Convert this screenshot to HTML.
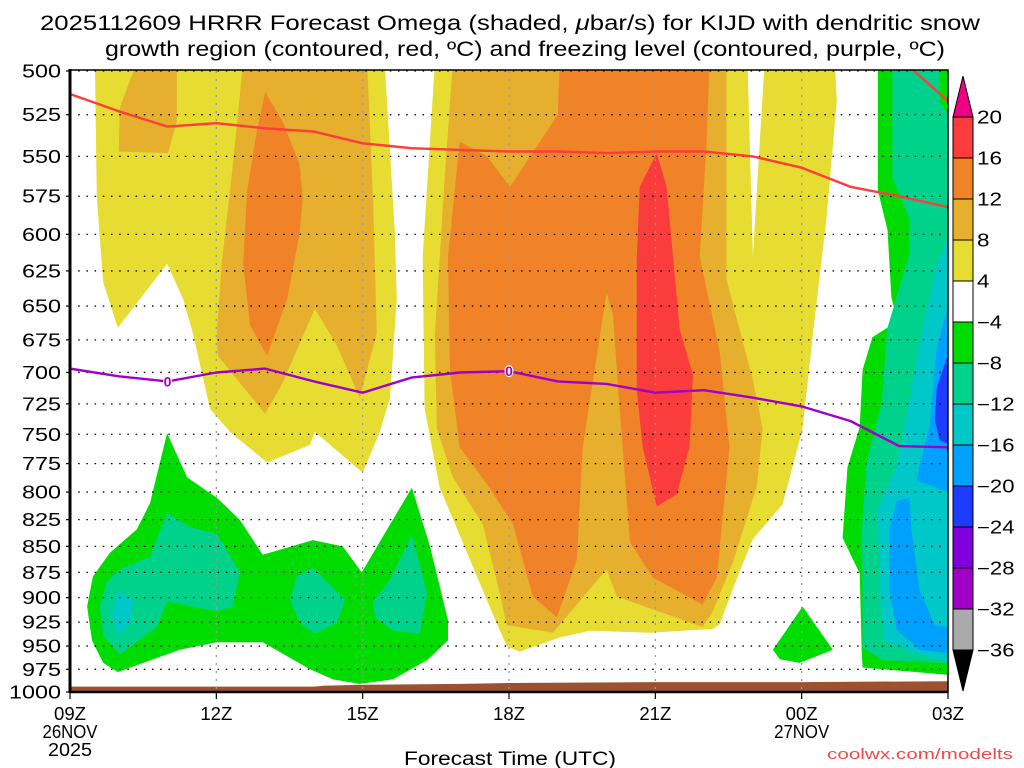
<!DOCTYPE html>
<html><head><meta charset="utf-8"><style>
html,body{margin:0;padding:0;background:#fff;width:1024px;height:768px;overflow:hidden}
svg text{font-family:"Liberation Sans","DejaVu Sans",sans-serif}
</style></head><body>
<svg id="chart" width="1024" height="768" viewBox="0 0 1024 768" xmlns="http://www.w3.org/2000/svg">
<g font-size="21" fill="#000">
<text x="40" y="30" textLength="940" lengthAdjust="spacingAndGlyphs">2025112609 HRRR Forecast Omega (shaded, <tspan font-style="italic">μ</tspan>bar/s) for KIJD with dendritic snow</text>
<text x="105" y="56" textLength="840" lengthAdjust="spacingAndGlyphs">growth region (contoured, red, ºC) and freezing level (contoured, purple, ºC)</text>
</g>
<defs><clipPath id="plotclip"><rect x="70" y="70" width="878" height="622"/></clipPath></defs>
<g id="shading" clip-path="url(#plotclip)"></g>
<g id="grid"></g>
<g id="lines" clip-path="url(#plotclip)"></g>
<g id="axes"></g>
<g id="cbar"></g>
<text x="510" y="765" font-size="19" text-anchor="middle" textLength="212" lengthAdjust="spacingAndGlyphs">Forecast Time (UTC)</text>
<text x="1013" y="759" font-size="15" text-anchor="end" fill="#f04848" textLength="186" lengthAdjust="spacingAndGlyphs">coolwx.com/modelts</text>
</svg>
<script>
// ---- data (hours since 09Z 26NOV, pressure hPa) ----
const hours = [0,1,2,3,4,5,6,7,8,9,10,11,12,13,14,15,16,17,18];
const xTickLabels = ["09Z","12Z","15Z","18Z","21Z","00Z","03Z"];
const xTickHours = [0,3,6,9,12,15,18];
const pressureTicks = [500,525,550,575,600,625,650,675,700,725,750,775,800,825,850,875,900,925,950,975,1000];
const freezingLevel = [697,703,707,700,697,707,716,704,700,699,707,709,716,714,720,727,739,760,761];
const dendriticTop = [513,523,532,530,533,535,542,545,546,547,547,548,547,547,550,557,569,575,582];
const dendriticCornerHours = [17.1,18];
const dendriticCornerP = [495,517];
const terrainHours = [0,5,5.2,6,8,9,12,15,18];
const surfacePressure = [994,994,993,992,991,990,989,989,988];
const cbarLevels = ["20","16","12","8","4","−4","−8","−12","−16","−20","−24","−28","−32","−36"];
const cbarColors = ["#fa3c3c","#f08228","#e6af2d","#e6dc32","#ffffff","#00dc00","#00d28c","#00c8c8","#00a0ff","#1e3cff","#8200dc","#a000c8","#aaaaaa"];
// shaded regions: [name, color, [[hour, hPa], ...]]
const regions = [
 ["yellow-left","#e6dc32",[[.51,495],[6.45,495],[6.66,599],[6.70,645],[6.56,720],[6.35,748],[6.00,783],[5.02,748],[4.92,759],[4.04,774],[3.28,748],[2.87,729],[2.52,670],[2.32,645],[1.99,620],[.98,666],[.68,633],[.55,576]]],
 ["lightorange-topleft","#e6af2d",[[1.37,495],[2.19,495],[2.19,529],[2.01,548],[1.0,547],[1.02,521]]],
 ["lightorange-left","#e6af2d",[[3.55,495],[6.09,495],[6.21,575],[6.29,670],[5.94,720],[5.47,679],[5.02,652],[4.36,708],[4.0,733],[3.48,708],[3.03,687],[3.01,670],[3.11,620],[3.34,555]]],
 ["orange-left","#f08228",[[4.0,512],[4.36,529],[4.71,555],[4.77,576],[4.71,599],[4.45,645],[4.04,687],[3.69,664],[3.55,620],[3.63,572],[3.83,535]]],
 ["yellow-main","#e6dc32",[[7.48,495],[15.68,495],[15.72,517],[15.51,589],[15.23,671],[15.02,745],[14.61,811],[14.0,843],[13.73,874],[13.32,927],[13.18,932],[11.89,936],[10.66,934],[10.04,941],[9.22,956],[8.95,950],[8.55,903],[8.05,846],[7.58,796],[7.27,729],[7.23,615]]],
 ["white-notch","#ffffff",[[13.89,495],[14.24,495],[14.0,615]]],
 ["lightorange-main","#e6af2d",[[7.85,495],[13.46,495],[13.46,631],[14.0,706],[14.2,745],[14.08,795],[13.59,865],[13.18,914],[12.97,930],[11.21,899],[11.0,872],[9.9,936],[8.95,928],[8.81,895],[8.46,829],[7.85,787],[7.52,745],[7.48,671],[7.68,564]]],
 ["orange-main","#f08228",[[10.04,495],[10.0,525],[9.02,569],[8.55,550],[7.99,541],[7.75,615],[7.79,698],[7.99,761],[8.55,793],[9.08,829],[9.49,899],[9.98,920],[10.39,863],[10.51,761],[11.0,640],[11.13,656],[11.27,729],[11.48,846],[11.95,880],[12.97,907],[13.26,880],[13.52,761],[13.32,684],[12.91,615],[13.05,541],[13.11,495]]],
 ["red-core","#fa3c3c",[[12.03,548],[11.68,569],[11.62,615],[11.62,714],[11.74,761],[12.03,813],[12.44,802],[12.7,761],[12.77,702],[12.5,667],[12.23,569]]],
 ["green-small","#00dc00",[[15.02,909],[14.41,954],[14.55,964],[14.96,968],[15.64,954]]],
 ["green-left","#00dc00",[[1.99,749],[2.40,787],[3.01,805],[3.48,825],[3.95,858],[4.98,844],[5.59,850],[5.98,875],[7.01,796],[7.38,850],[7.75,923],[7.75,944],[7.32,965],[6.62,986],[5.94,991],[5.39,986],[4.92,975],[3.95,946],[3.01,946],[2.25,954],[1.50,968],[.98,978],[.68,968],[.45,944],[.35,909],[.47,879],[.82,856],[1.37,834],[1.64,810]]],
 ["teal-left-1","#00d28c",[[1.99,819],[2.46,832],[3.01,838],[3.48,875],[3.34,909],[3.01,914],[1.99,904],[1.78,930],[1.02,959],[.68,939],[.61,909],[.76,884],[1.02,872],[1.64,860]]],
 ["cyan-left","#00c8c8",[[.98,894],[1.29,902],[1.27,926],[.98,938],[.86,916]]],
 ["teal-left-2","#00d28c",[[4.98,870],[5.64,902],[5.47,926],[5.02,937],[4.71,926],[4.51,902],[4.65,879]]],
 ["teal-left-3","#00d28c",[[7.01,839],[7.32,895],[7.17,937],[6.62,934],[6.25,920],[6.21,904],[6.56,882]]],
 ["green-right","#00dc00",[[16.56,490],[18.2,490],[18.2,982],[16.25,973],[16.23,956],[16.19,876],[15.84,842],[15.94,778],[16.19,744],[16.25,698],[16.45,673],[16.97,661],[16.84,644],[16.76,597],[16.56,571]]],
 ["teal-right","#00d28c",[[16.86,490],[17.83,490],[17.83,517],[18.2,535],[18.2,969],[16.66,965],[16.25,952],[16.25,891],[16.23,835],[16.33,775],[16.64,724],[16.76,666],[17.21,613],[17.21,590],[16.86,563]]],
 ["cyan-right","#00c8c8",[[18.2,587],[17.77,621],[17.42,677],[17.15,737],[16.95,777],[16.56,815],[16.60,894],[16.70,945],[17.27,957],[18.2,969]]],
 ["lightblue-right-upper","#00a0ff",[[18.2,626],[17.77,681],[17.62,744],[17.42,776],[17.36,790],[18.2,803]]],
 ["lightblue-right-lower","#00a0ff",[[16.95,808],[17.21,805],[17.25,834],[17.42,893],[17.73,928],[18.2,931],[18.2,959],[17.42,954],[16.95,933],[16.80,893],[16.80,834]]],
 ["blue-right","#1e3cff",[[18.2,664],[17.77,712],[17.73,738],[17.83,755],[18.2,762]]]
];
// ---- axes functions ----
const X0=70, X1=948, Y0=71, Y1=692;
function xOf(h){return X0 + (X1-X0)*h/18;}
function yOf(p){return Y0 + (Y1-Y0)*Math.log2(p/500);}
const NS="http://www.w3.org/2000/svg";
function mk(tag, attrs, parent){const e=document.createElementNS(NS,tag);for(const k in attrs)e.setAttribute(k,attrs[k]);parent.appendChild(e);return e;}
const shading=document.getElementById('shading');
regions.forEach(r=>{
  const pts=r[2].map(q=>xOf(q[0]).toFixed(1)+","+yOf(q[1]).toFixed(1)).join(" ");
  const el=mk('polygon',{points:pts,fill:r[1]},shading);
  
  
});
// terrain
{
  let pts=terrainHours.map((h,i)=>xOf(h).toFixed(1)+","+yOf(surfacePressure[i]).toFixed(1));
  pts.push(xOf(18)+","+(Y1+2)); pts.push(xOf(0)+","+(Y1+2));
  const el=mk('polygon',{points:pts.join(" "),fill:"#9b5230"},shading);
  
  
}
// grid
const grid=document.getElementById('grid');
pressureTicks.forEach(p=>{
  const y=yOf(p);
  const el=mk('line',{x1:X0,x2:X1,y1:y,y2:y,stroke:"#000","stroke-width":1.3,"stroke-dasharray":"1.5,6.7"},grid);
  
  
});
xTickHours.slice(1,-1).forEach(h=>{
  const x=xOf(h);
  const el=mk('line',{x1:x,x2:x,y1:Y0,y2:Y1,stroke:"#999","stroke-width":1.3,"stroke-dasharray":"2,6"},grid);
  
  
});
// lines
const lines=document.getElementById('lines');
function poly(hs,ps,color,name){
  const pts=hs.map((h,i)=>xOf(h).toFixed(1)+","+yOf(ps[i]).toFixed(1)).join(" ");
  const el=mk('polyline',{points:pts,fill:"none",stroke:color,"stroke-width":2.4,"stroke-linejoin":"round"},lines);
  
  
}
poly(hours,dendriticTop,"#ff3c3c","dendritic-zone-line");
poly(dendriticCornerHours,dendriticCornerP,"#ff3c3c","dendritic-zone-line-corner");
poly(hours,freezingLevel,"#a000c8","freezing-level-line");
[2,9].forEach(i=>{
  const x=xOf(hours[i]), y=yOf(freezingLevel[i]);
  const bg=mk('ellipse',{cx:x,cy:y,rx:4.5,ry:6,fill:"#fff"},lines);
  
  
  const t=mk('text',{x:x,y:y+5,"font-size":14,"font-weight":"bold","text-anchor":"middle",fill:"#a000c8"},lines);
  t.textContent="0";
  
  
});
// axes
const axes=document.getElementById('axes');
{
  const f=mk('rect',{x:X0,y:70,width:X1-X0,height:Y1-70,fill:"none",stroke:"#000","stroke-width":1.5},axes);
  
  
  const l=mk('line',{x1:X0,x2:X0,y1:69,y2:Y1+1,stroke:"#000","stroke-width":3},axes);
  
  
  const b=mk('line',{x1:X0,x2:X1,y1:Y1,y2:Y1,stroke:"#000","stroke-width":2.5},axes);
  
  
}
pressureTicks.forEach(p=>{
  const y=yOf(p);
  const tk=mk('line',{x1:X0-4,x2:X0,y1:y,y2:y,stroke:"#000","stroke-width":1.2},axes);
  
  
  const t=mk('text',{x:61,y:y+6.5,"font-size":18,"text-anchor":"end",textLength:String(p).length*13,lengthAdjust:"spacingAndGlyphs"},axes);
  t.textContent=p;
  
  
});
xTickHours.forEach((h,i)=>{
  const x=xOf(h);
  const tk=mk('line',{x1:x,x2:x,y1:Y1,y2:Y1+7,stroke:"#000","stroke-width":1.2},axes);
  
  
  const t=mk('text',{x:x,y:720,"font-size":18,"text-anchor":"middle",textLength:32,lengthAdjust:"spacingAndGlyphs"},axes);
  t.textContent=xTickLabels[i];
  
  
});
[["26NOV",0,738],["2025",0,756],["27NOV",15,738]].forEach(d=>{
  const t=mk('text',{x:xOf(d[1]),y:d[2],"font-size":18,"text-anchor":"middle",textLength:d[0].length*11,lengthAdjust:"spacingAndGlyphs"},axes);
  t.textContent=d[0];
  
  
});
// colorbar
const cbar=document.getElementById('cbar');
const CX=953, CW=20, CT=117, CH=41;
{
  const tri=mk('polygon',{points:`${CX},${CT} ${CX+CW},${CT} ${CX+CW/2},${CT-41}`,fill:"#f00082",stroke:"#000","stroke-width":1},cbar);
  
  
  const bot=CT+CH*cbarColors.length;
  const tri2=mk('polygon',{points:`${CX},${bot} ${CX+CW},${bot} ${CX+CW/2},${bot+41}`,fill:"#000",stroke:"#000","stroke-width":1},cbar);
  
  
}
cbarColors.forEach((c,i)=>{
  const r=mk('rect',{x:CX,y:CT+CH*i,width:CW,height:CH,fill:c,stroke:"#000","stroke-width":1},cbar);
  
  
});
cbarLevels.forEach((s,i)=>{
  const t=mk('text',{x:977,y:CT+CH*i+6.5,"font-size":18,textLength:s.length*12.5,lengthAdjust:"spacingAndGlyphs"},cbar);
  t.textContent=s;
  
  
});
</script>
</body></html>
